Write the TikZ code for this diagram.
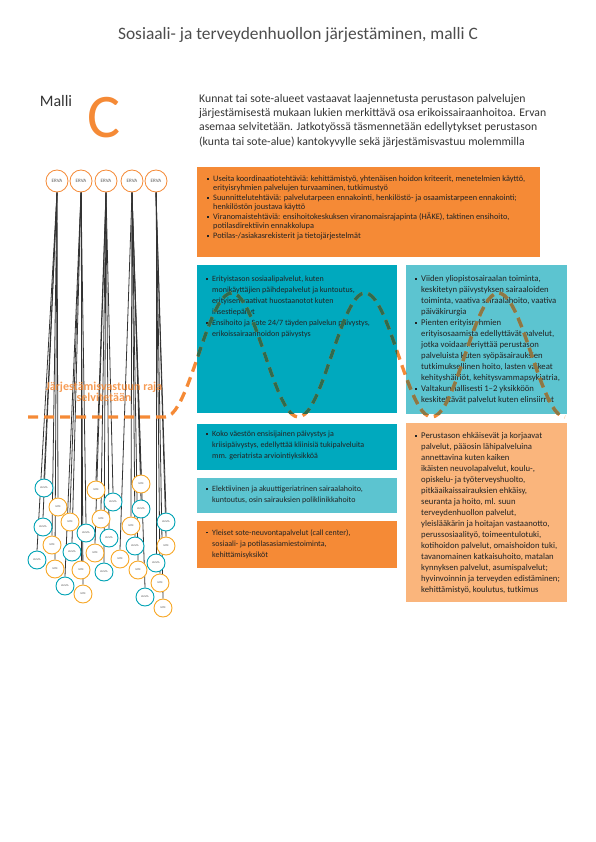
\documentclass[tikz,border=0pt]{standalone}
\usepackage{fontspec}
\setmainfont{Carlito}
\usepackage{tikz}
\usetikzlibrary{positioning,backgrounds}
\definecolor{oranssi}{RGB}{245,138,54}
\definecolor{turkoosi}{RGB}{0,169,190}
\definecolor{vaaleaturk}{RGB}{92,196,208}
\definecolor{persikka}{RGB}{250,181,124}
\definecolor{keltainen}{RGB}{247,168,40}
\definecolor{kuntavari}{RGB}{0,163,181}
\definecolor{teksti}{RGB}{35,35,35}
\definecolor{tummavihrea}{RGB}{47,107,78}
\definecolor{oliivi}{RGB}{140,120,70}
\newcommand{\bl}{\makebox[6pt][l]{\raisebox{1.7pt}{\rule{1.8pt}{1.8pt}}}}
\newcommand{\ind}{\hspace*{6pt}}
% raja-aalto
\newcommand{\aalto}{(28,417) -- (165,417)
  -- plot[domain=165:565,samples=121] (\x,{355+62*cos(2.7*(\x-165))})}
% kunnat ja sote-alueet: nro/tyyppi/teksti/x/y/erva
\newcommand{\ympyrat}{1/kunta/KUNTA/44/488/1, 2/sote/SOTE/58/507/1, 3/kunta/KUNTA/43/527/1,
  5/sote/SOTE/52/545/1, 6/kunta/KUNTA/37/560/1, 7/sote/SOTE/55/569/1,
  4/sote/SOTE/70/522/2, 8/kunta/KUNTA/72/552/2, 9/kunta/KUNTA/65/586/2,
  10/sote/SOTE/81/570/2, 11/sote/SOTE/83/594/2, 13/kunta/KUNTA/86/533/2,
  12/sote/SOTE/96/490/3, 14/sote/SOTE/101/519/3, 15/kunta/KUNTA/113/502/3,
  16/kunta/KUNTA/109/538/3, 17/sote/SOTE/95/553/3, 18/kunta/KUNTA/104/572/3,
  19/sote/SOTE/120/559/4, 20/sote/SOTE/141/484/4, 21/kunta/KUNTA/141/509/4,
  22/sote/SOTE/131/526/4, 23/kunta/KUNTA/135/546/4, 24/sote/SOTE/138/570/4,
  25/kunta/KUNTA/145/597/4, 26/kunta/KUNTA/166/522/5, 27/sote/SOTE/166/546/5,
  28/kunta/KUNTA/156/563/5, 29/sote/SOTE/160/583/5, 30/sote/SOTE/163/608/5}

\begin{document}
\begin{tikzpicture}[x=1pt,y=-1pt,
      box/.style={anchor=north west,inner sep=0pt,outer sep=0pt},
      txt/.style={anchor=north west,inner sep=0pt,align=left,text=teksti,
                  font=\fontsize{8}{11}\selectfont},
      txtb/.style={txt,font=\fontsize{8.7}{11}\selectfont},
      erva/.style={circle,draw=oranssi,line width=0.8pt,fill=white,minimum size=22pt,
                   inner sep=0pt,text=black!65,font=\fontsize{5}{5}\selectfont},
      kunta/.style={circle,draw=kuntavari,line width=0.9pt,fill=white,minimum size=18pt,
                    inner sep=0pt,text=black!70,font=\fontsize{2.6}{2.6}\selectfont},
      sote/.style={kunta,draw=keltainen},
      yhteys/.style={draw=black!80,line width=0.8pt},
      raja/.style={draw=oranssi,line width=3.3pt,dash pattern=on 10pt off 6pt}]
    \useasboundingbox (0,0) rectangle (595,842);

    \node[text=black!70,font=\fontsize{17.4}{17.4}\selectfont] (otsikko) at (298,35)
      {Sosiaali- ja terveydenhuollon järjestäminen, malli C};
    \node[text=black!80,font=\fontsize{16}{16}\selectfont] (malli) at (56,101) {Malli};
    \node[text=oranssi,font=\fontsize{62}{62}\selectfont] (kirjain) at (104,118) {C};
    \node[txt,text=black!80,font=\fontsize{11.7}{14.3}\selectfont] (kuvaus) at (199,94)
      {Kunnat tai sote-alueet vastaavat laajennetusta perustason palvelujen\\
       järjestämisestä mukaan lukien merkittävä osa erikoissairaanhoitoa. Ervan\\
       asemaa selvitetään. Jatkotyössä täsmennetään edellytykset perustason\\
       (kunta tai sote-alue) kantokyvylle sekä järjestämisvastuu molemmilla};

    % laatikot
    \node[box,fill=oranssi,minimum width=343pt,minimum height=90pt] (koord) at (197,167) {};
    \node[box,fill=turkoosi,minimum width=200pt,minimum height=148pt] (erik) at (197,265) {};
    \node[box,fill=vaaleaturk,minimum width=161pt,minimum height=149pt] (yliop) at (406,265) {};
    \node[box,fill=turkoosi,minimum width=200pt,minimum height=46pt] (paiv) at (197,424) {};
    \node[box,fill=vaaleaturk,minimum width=200pt,minimum height=35pt] (sair) at (197,478) {};
    \node[box,fill=oranssi,minimum width=200pt,minimum height=47pt] (neuv) at (197,521) {};
    \node[box,fill=persikka,minimum width=161pt,minimum height=179pt] (perus) at (406,423) {};

    \node[txt,font=\fontsize{8.3}{11}\selectfont] (koordt) at (207,175.5)
      {\bl Useita koordinaatiotehtäviä: kehittämistyö, yhtenäisen hoidon kriteerit, menetelmien käyttö,\\[-1.5pt]
       \ind erityisryhmien palvelujen turvaaminen, tutkimustyö\\[-1.5pt]
       \bl Suunnittelutehtäviä: palvelutarpeen ennakointi, henkilöstö- ja osaamistarpeen ennakointi;\\[-1.5pt]
       \ind henkilöstön joustava käyttö\\[-1.5pt]
       \bl Viranomaistehtäviä: ensihoitokeskuksen viranomaisrajapinta (HÄKE), taktinen ensihoito,\\[-1.5pt]
       \ind potilasdirektiivin ennakkolupa\\[-1pt]
       \bl Potilas-/asiakasrekisterit ja tietojärjestelmät};
    \node[txt] (erikt) at (206,276)
      {\bl Erityistason sosiaalipalvelut, kuten\\
       \ind monikäyttäjien päihdepalvelut ja kuntoutus,\\
       \ind erityisen vaativat huostaanotot kuten\\
       \ind insestiepäilyt\\
       \bl Ensihoito ja Sote 24/7 täyden palvelun päivystys,\\
       \ind erikoissairaanhoidon päivystys};
    \node[txtb] (yliopt) at (415,275)
      {\bl Viiden yliopistosairaalan toiminta,\\
       \ind keskitetyn päivystyksen sairaaloiden\\
       \ind toiminta, vaativa sairaalahoito, vaativa\\
       \ind päiväkirurgia\\
       \bl Pienten erityisryhmien\\
       \ind erityisosaamista edellyttävät palvelut,\\
       \ind jotka voidaan eriyttää perustason\\
       \ind palveluista kuten syöpäsairauksien\\
       \ind tutkimuksellinen hoito, lasten vaikeat\\
       \ind kehityshäiriöt, kehitysvammapsykiatria,\\
       \bl Valtakunnallisesti 1–2 yksikköön\\
       \ind keskitettävät palvelut kuten elinsiirrot};
    \node[txt] (paivt) at (206,431)
      {\bl Koko väestön ensisijainen päivystys ja\\
       \ind kriisipäivystys, edellyttää kliinisiä tukipalveluita\\
       \ind mm. geriatrista arviointiyksikköä};
    \node[txt] (sairt) at (206,486)
      {\bl Elektiivinen ja akuuttigeriatrinen sairaalahoito,\\
       \ind kuntoutus, osin sairauksien poliklinikkahoito};
    \node[txt] (neuvt) at (206,529)
      {\bl Yleiset sote-neuvontapalvelut (call center),\\
       \ind sosiaali- ja potilasasiamiestoiminta,\\
       \ind kehittämisyksiköt};
    \node[txtb] (perust) at (415,432)
      {\bl Perustason ehkäisevät ja korjaavat\\
       \ind palvelut, pääosin lähipalveluina\\
       \ind annettavina kuten kaiken\\
       \ind ikäisten neuvolapalvelut, koulu-,\\
       \ind opiskelu- ja työterveyshuolto,\\
       \ind pitkäaikaissairauksien ehkäisy,\\
       \ind seuranta ja hoito, ml. suun\\
       \ind terveydenhuollon palvelut,\\
       \ind yleislääkärin ja hoitajan vastaanotto,\\
       \ind perussosiaalityö, toimeentulotuki,\\
       \ind kotihoidon palvelut, omaishoidon tuki,\\
       \ind tavanomainen katkaisuhoito, matalan\\
       \ind kynnyksen palvelut, asumispalvelut;\\
       \ind hyvinvoinnin ja terveyden edistäminen;\\
       \ind kehittämistyö, koulutus, tutkimus};

    % ervat, kunnat ja sote-alueet
    \foreach \i/\x in {1/57,2/81,3/106,4/132,5/156}
      \node[erva] (e\i) at (\x,181) {ERVA};
    \foreach \n/\t/\s/\x/\y/\e in \ympyrat
      \node[\t] (k\n) at (\x,\y) {\s};
    \begin{pgfonlayer}{background}
      \foreach \n/\t/\s/\x/\y/\e in \ympyrat
        \draw[yhteys] (e\e.south) -- (k\n.north);
    \end{pgfonlayer}

    \node[text=oranssi,text opacity=0.85,align=center,
          font=\fontsize{12}{11}\selectfont\bfseries] (rajat) at (104,392)
      {Järjestämisvastuun raja\\ selvitetään};
    \draw[raja] \aalto;
    \begin{scope}
      \clip (erik.north west) rectangle (erik.south east);
      \draw[raja,draw=tummavihrea] \aalto;
    \end{scope}
    \begin{scope}
      \clip (yliop.north west) rectangle (yliop.south east);
      \draw[raja,draw=oliivi] \aalto;
    \end{scope}
  \end{tikzpicture}
\end{document}
